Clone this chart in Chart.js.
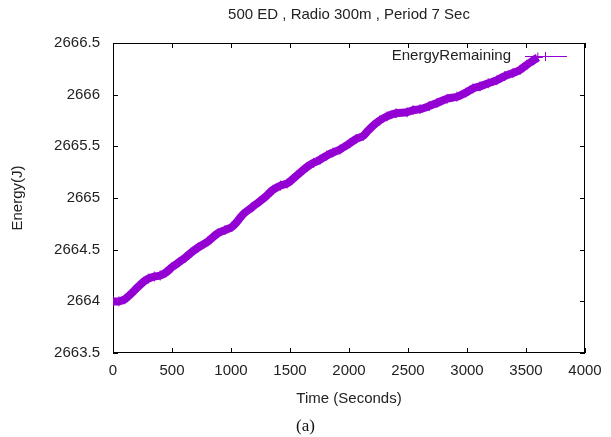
<!DOCTYPE html>
<html>
<head>
<meta charset="utf-8">
<script src="https://cdn.jsdelivr.net/npm/chart.js@4.4.1/dist/chart.umd.min.js"></script>
<style>
  html, body { margin: 0; padding: 0; background: #fff; }
  #wrap { width: 611px; height: 437px; }
</style>
</head>
<body>
<div id="wrap"><canvas id="energy"></canvas></div>
<script>
// values
var times = [0, 50, 100, 150, 212, 260, 300, 350, 400, 450, 500, 560, 610, 660, 720,
  805, 890, 950, 1008, 1050, 1100, 1178, 1246, 1300, 1356, 1420, 1475, 1520, 1560,
  1644, 1700, 1754, 1810, 1864, 1924, 2008, 2060, 2119, 2160, 2204, 2260, 2322, 2400,
  2492, 2543, 2602, 2680, 2746, 2831, 2915, 2990, 3051, 3110, 3180, 3254, 3320, 3390,
  3450, 3508, 3560, 3600];
var energy = [2664.00, 2664.00, 2664.02, 2664.07, 2664.14, 2664.19, 2664.22, 2664.24,
  2664.25, 2664.28, 2664.33, 2664.38, 2664.42, 2664.47, 2664.52, 2664.58, 2664.66,
  2664.69, 2664.72, 2664.77, 2664.84, 2664.91, 2664.97, 2665.02, 2665.08, 2665.12,
  2665.14, 2665.18, 2665.22, 2665.30, 2665.34, 2665.37, 2665.41, 2665.44, 2665.47,
  2665.53, 2665.57, 2665.60, 2665.65, 2665.70, 2665.75, 2665.79, 2665.82, 2665.83,
  2665.85, 2665.86, 2665.89, 2665.92, 2665.96, 2665.98, 2666.02, 2666.06, 2666.08,
  2666.11, 2666.14, 2666.18, 2666.21, 2666.24, 2666.29, 2666.33, 2666.36];
var seriesName = 'EnergyRemaining';
var chartTitle = '500 ED , Radio 300m , Period 7 Sec';
var xTicks = [0, 500, 1000, 1500, 2000, 2500, 3000, 3500, 4000];
var yTicks = [2663.5, 2664, 2664.5, 2665, 2665.5, 2666, 2666.5];

var purple = '#9400d3';
var font = '"Liberation Sans", Arial, sans-serif';

// gnuplot-like frame with inward ticks on all four sides
var frame = {
  id: 'frame',
  beforeDatasetsDraw: function (chart) {
    var c = chart.ctx, a = chart.chartArea;
    var x = chart.scales.x, y = chart.scales.y;
    c.save();
    c.strokeStyle = '#000';
    c.lineWidth = 1;
    c.strokeRect(a.left + 0.5, a.top + 0.5, a.right - a.left - 1, a.bottom - a.top - 1);
    c.beginPath();
    xTicks.forEach(function (v) {
      var px = Math.round(x.getPixelForValue(v)) + 0.5;
      c.moveTo(px, a.bottom); c.lineTo(px, a.bottom - 5);
      c.moveTo(px, a.top); c.lineTo(px, a.top + 5);
    });
    yTicks.forEach(function (v) {
      var py = Math.round(y.getPixelForValue(v)) + 0.5;
      c.moveTo(a.left, py); c.lineTo(a.left + 5, py);
      c.moveTo(a.right, py); c.lineTo(a.right - 5, py);
    });
    c.stroke();
    c.restore();
  },
  afterDraw: function (chart) {
    // key in the top right corner: text, then line sample with a "+"
    var c = chart.ctx, a = chart.chartArea;
    var ky = a.top + 13;
    c.save();
    c.font = '15px ' + font;
    c.fillStyle = '#222';
    c.textAlign = 'right';
    c.textBaseline = 'middle';
    c.fillText(seriesName, a.right - 74, ky);
    c.strokeStyle = purple;
    c.lineWidth = 1;
    c.beginPath();
    c.moveTo(a.right - 60, ky + 0.5); c.lineTo(a.right - 18, ky + 0.5);
    c.moveTo(a.right - 39.5, ky - 4); c.lineTo(a.right - 39.5, ky + 5);
    c.stroke();
    c.restore();
  }
};

new Chart(document.getElementById('energy'), {
  type: 'line',
  data: {
    datasets: [{
      label: seriesName,
      data: times.map(function (t, i) { return { x: t, y: energy[i] }; }),
      borderColor: purple,
      backgroundColor: purple,
      borderWidth: 8,
      pointStyle: 'cross',
      pointRadius: 5,
      pointBorderWidth: 1,
      tension: 0.3
    }]
  },
  options: {
    responsive: true,
    maintainAspectRatio: false,
    animation: false,
    layout: { padding: 0 },
    plugins: {
      legend: { display: false },
      tooltip: { enabled: false },
      subtitle: {
        display: true,
        position: 'bottom',
        text: '(a)',
        color: '#111',
        font: { family: '"Liberation Serif", "Times New Roman", serif', size: 17, weight: 'normal' },
        padding: { top: 0, bottom: 0 }
      }
    },
    scales: {
      x: {
        type: 'linear',
        min: 0, max: 4000,
        afterBuildTicks: function (s) { s.ticks = xTicks.map(function (v) { return { value: v }; }); },
        afterFit: function (s) { s.height = 63.6; },
        grid: { display: false, drawTicks: false },
        border: { display: false },
        ticks: { padding: 9, color: '#222', font: { family: font, size: 15 }, maxRotation: 0,
          callback: function (v) { return String(v); } },
        title: { display: true, text: 'Time (Seconds)', color: '#222',
          font: { family: font, size: 15 }, padding: { top: 0, bottom: 8.6 } }
      },
      x2: {
        type: 'linear',
        position: 'top',
        min: 0, max: 4000,
        afterFit: function (s) { s.height = 43; },
        grid: { display: false, drawTicks: false },
        border: { display: false },
        ticks: { display: false },
        title: { display: true, text: chartTitle, color: '#222',
          font: { family: font, size: 15 }, padding: { top: 6, bottom: 0 } }
      },
      y: {
        min: 2663.5, max: 2666.5,
        afterBuildTicks: function (s) { s.ticks = yTicks.map(function (v) { return { value: v }; }); },
        afterFit: function (s) { s.width = 113; },
        grid: { display: false, drawTicks: false },
        border: { display: false },
        ticks: { padding: 13, color: '#222', font: { family: font, size: 15 },
          callback: function (v) { return String(+v.toFixed(1)); } },
        title: { display: true, text: 'Energy(J)', color: '#222',
          font: { family: font, size: 15 }, padding: { top: 9, bottom: 0 } }
      },
      // empty right-hand axis that only reserves the right margin
      y2: {
        position: 'right',
        min: 2663.5, max: 2666.5,
        afterFit: function (s) { s.width = 26; },
        grid: { display: false, drawTicks: false },
        border: { display: false },
        ticks: { display: false }
      }
    }
  },
  plugins: [frame]
});
</script>
</body>
</html>
